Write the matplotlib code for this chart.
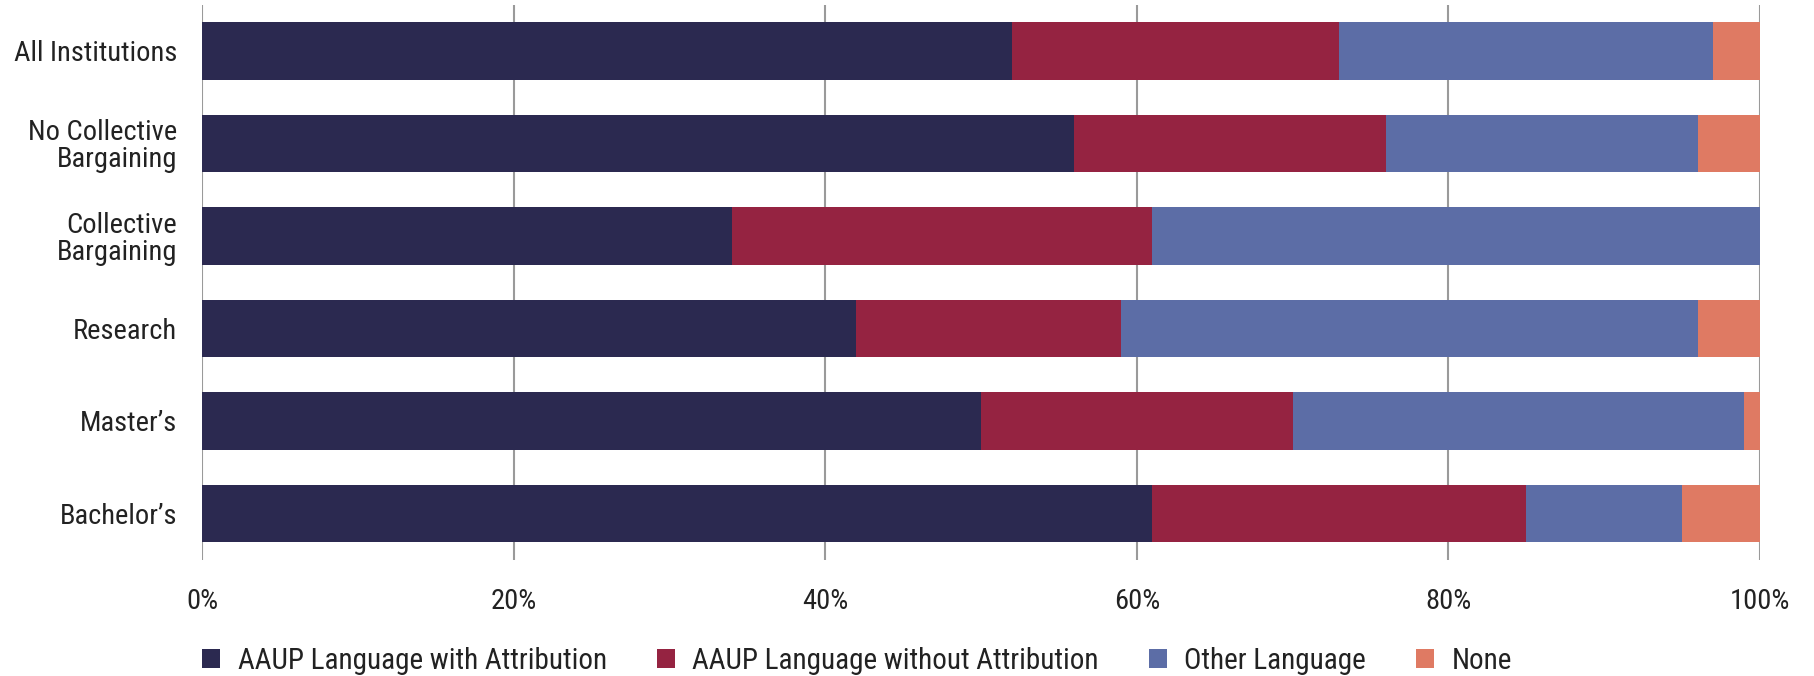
import numpy as np
import matplotlib
matplotlib.use("Agg")
from matplotlib import pyplot as plt
from matplotlib.patches import Patch

categories = ["All Institutions", "No Collective\nBargaining", "Collective\nBargaining",
              "Research", "Master\u2019s", "Bachelor\u2019s"]
with_attr = [52, 56, 34, 42, 50, 61]
without_attr = [21, 20, 27, 17, 20, 24]
other_lang = [24, 20, 39, 37, 29, 10]
none_vals = [3, 4, 0, 4, 1, 5]

series_names = ["AAUP Language with Attribution", "AAUP Language without Attribution",
                "Other Language", "None"]
colors = ["#2b2950", "#952341", "#5c6da6", "#df7a63"]

plt.rcParams['font.family'] = ['Roboto Condensed', 'Archivo Narrow', 'PT Sans Narrow',
                               'IBM Plex Sans Condensed', 'DejaVu Sans']

fig = plt.figure(figsize=(18.15, 6.76), dpi=100)
ax = fig.add_axes([0.1113, 0.172, 0.8584, 0.821])

y = np.arange(len(categories))
left = np.zeros(len(categories))
for vals, c in zip([with_attr, without_attr, other_lang, none_vals], colors):
    ax.barh(y, vals, left=left, height=0.62, color=c, zorder=3)
    left += np.array(vals)

fs = 20.5
ax.set_xlim(0, 100)
ax.set_ylim(5.5, -0.5)
ax.set_yticks(y)
ax.set_yticklabels(categories, fontsize=fs, color="#222222", linespacing=1.0)
ax.set_xticks([0, 20, 40, 60, 80, 100])
ax.set_xticklabels(["0%", "20%", "40%", "60%", "80%", "100%"], fontsize=fs, color="#222222")
ax.tick_params(axis="both", length=0)
ax.tick_params(axis="x", pad=20)
ax.tick_params(axis="y", pad=18)
ax.grid(axis="x", color="#9a9a9a", linewidth=1.5, zorder=1)
for s in ax.spines.values():
    s.set_visible(False)

handles = [Patch(facecolor=c, edgecolor="none") for c in colors]
fig.legend(handles, series_names, loc="center left", bbox_to_anchor=(0.1113, 0.022),
           ncol=4, frameon=False, fontsize=21, handlelength=0.63, handleheight=0.63,
           handletextpad=0.6, columnspacing=1.7, borderpad=0, borderaxespad=0,
           labelcolor="#222222")

fig.savefig("out.png", dpi=100)
